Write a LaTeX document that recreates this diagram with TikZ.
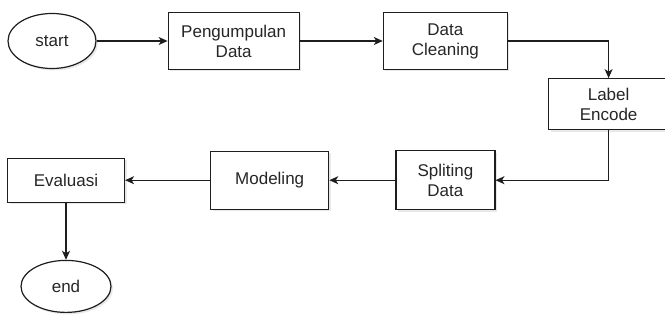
\documentclass[tikz,border=0pt]{standalone}
\usepackage{fontspec}
\setmainfont{Liberation Sans}
\usetikzlibrary{arrows.meta,positioning,shapes.geometric,shadows}
\definecolor{flowline}{RGB}{30,30,30}

\begin{document}
\begin{tikzpicture}[
    x=1pt,y=1pt,
    every node/.style={font=\fontsize{17}{20}\selectfont,text=black!85},
    box/.style={rectangle,draw=flowline,fill=white,line width=1.2pt,align=center,
      drop shadow={opacity=0.18,shadow xshift=2pt,shadow yshift=-2pt}},
    term/.style={ellipse,draw=flowline,fill=white,line width=1.2pt,
      minimum width=88pt,minimum height=55pt,inner sep=0pt,
      drop shadow={opacity=0.18,shadow xshift=2pt,shadow yshift=-2pt}},
    arrow/.style={-{Stealth[length=9pt,width=8pt,inset=2.5pt]},line width=1.2pt,draw=flowline}
  ]
    \useasboundingbox (0,0) rectangle (665,-320);
    \node[term] (start) at (52,-41) {start};
    \node[box,right=71pt of start,minimum width=131pt,minimum height=57pt] (kumpul) {Pengumpulan\\Data};
    \node[box,right=83pt of kumpul,minimum width=124pt,minimum height=57pt] (cleaning) {Data\\Cleaning};
    \node[box,below right=8pt and 40pt of cleaning.south east,minimum width=120pt,minimum height=51pt] (encode) {Label\\Encode};
    \node[box,below=80pt of cleaning,minimum width=99pt,minimum height=59pt] (split) {Spliting\\Data};
    \node[box,left=66pt of split,minimum width=118pt,minimum height=58pt] (modeling) {Modeling};
    \node[box,left=85pt of modeling,minimum width=117pt,minimum height=44pt] (evaluasi) {Evaluasi};
    \node[term,below=57pt of evaluasi,minimum width=90pt,minimum height=52pt] (end) {end};
    \draw[arrow] (start) -- (kumpul);
    \draw[arrow] (kumpul) -- (cleaning);
    \draw[arrow] (cleaning) -| (encode);
    \draw[arrow] (encode) |- (split);
    \draw[arrow] (split) -- (modeling);
    \draw[arrow] (modeling) -- (evaluasi);
    \draw[arrow] (evaluasi) -- (end);
\end{tikzpicture}
\end{document}
